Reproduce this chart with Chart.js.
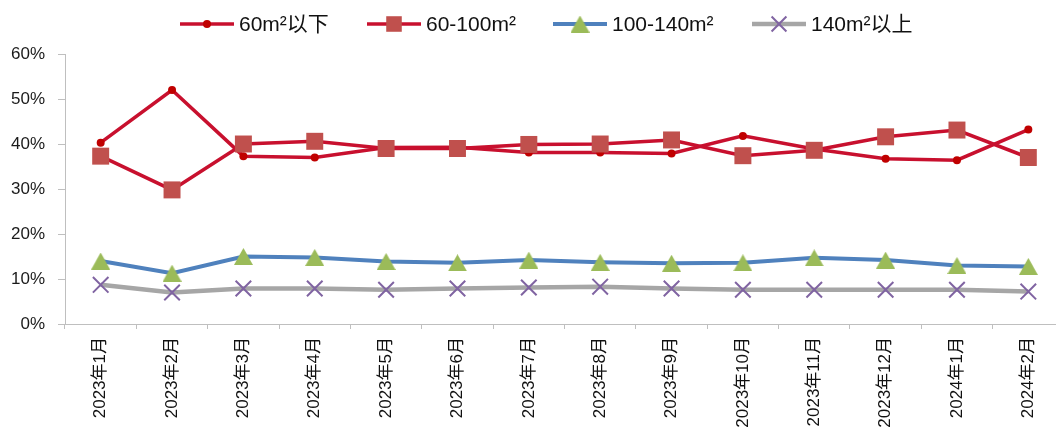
<!DOCTYPE html>
<html>
<head>
<meta charset="utf-8">
<script src="https://cdn.jsdelivr.net/npm/chart.js@4/dist/chart.umd.min.js"></script>
<style>
  html, body { margin: 0; padding: 0; overflow: hidden; background: #fff; }
  #wrap { width: 1077px; height: 429px; position: relative; }
</style>
</head>
<body>
<div id="wrap"><canvas id="c"></canvas></div>
<script>
// Monthly share of transactions by floor-area band (%)
const months = ['2023年1月','2023年2月','2023年3月','2023年4月','2023年5月','2023年6月','2023年7月',
                '2023年8月','2023年9月','2023年10月','2023年11月','2023年12月','2024年1月','2024年2月'];
const seriesNames = ['60m²以下', '60-100m²', '100-140m²', '140m²以上'];
const under60   = [40.3, 52.0, 37.3, 37.0, 39.2, 39.3, 38.1, 38.1, 37.9, 41.8, 38.9, 36.7, 36.4, 43.2];
const from60    = [37.3, 29.8, 40.0, 40.6, 39.0, 39.0, 39.9, 40.0, 40.9, 37.4, 38.6, 41.6, 43.1, 37.0];
const from100   = [14.0, 11.3, 15.0, 14.8, 13.9, 13.6, 14.2, 13.7, 13.5, 13.6, 14.7, 14.2, 13.0, 12.8];
const over140   = [ 8.7,  7.0,  7.9,  7.9,  7.6,  7.9,  8.1,  8.3,  7.9,  7.6,  7.6,  7.6,  7.6,  7.2];
const yTicks    = [0, 10, 20, 30, 40, 50, 60];

const FONT = '"Liberation Sans", Arial, "Noto Sans CJK SC", sans-serif';

// Green triangle marker, centred on its bounding box
function makeTriangle(w, h, color) {
  const c = document.createElement('canvas');
  c.width = w; c.height = h;
  const g = c.getContext('2d');
  g.fillStyle = color;
  g.beginPath();
  g.moveTo(w / 2, 0);
  g.lineTo(w, h);
  g.lineTo(0, h);
  g.closePath();
  g.fill();
  return c;
}
const triangleMarker = makeTriangle(19, 17, '#9BBB59');

// Legend across the top: line sample with the series marker in its middle
const legendStarts = [180, 367, 553, 752];
const topLegend = {
  id: 'topLegend',
  afterDraw(chart) {
    const ctx = chart.ctx;
    const y = 24;
    ctx.save();
    ctx.font = '21px ' + FONT;
    ctx.textBaseline = 'middle';
    chart.data.datasets.forEach((ds, i) => {
      const x = legendStarts[i];
      ctx.strokeStyle = ds.borderColor;
      ctx.lineWidth = ds.borderWidth;
      ctx.beginPath();
      ctx.moveTo(x, y);
      ctx.lineTo(x + 54, y);
      ctx.stroke();
      ctx.fillStyle = ds.pointBackgroundColor;
      ctx.strokeStyle = ds.pointBorderColor;
      ctx.lineWidth = ds.pointBorderWidth;
      Chart.helpers.drawPoint(ctx, {
        pointStyle: ds.pointStyle, radius: ds.legendRadius, rotation: 0, borderWidth: ds.pointBorderWidth
      }, x + 27, y);
      ctx.fillStyle = '#111';
      ctx.fillText(ds.label, x + 59, y + 1);
    });
    ctx.restore();
  }
};

new Chart(document.getElementById('c'), {
  type: 'line',
  data: {
    labels: months,
    datasets: [
      {
        label: seriesNames[0], data: under60, order: 2,
        borderColor: '#C8102E', borderWidth: 3.5,
        pointStyle: 'circle', pointRadius: 4, legendRadius: 4,
        pointBackgroundColor: '#C00000', pointBorderColor: '#C00000', pointBorderWidth: 0
      },
      {
        label: seriesNames[1], data: from60, order: 0,
        borderColor: '#C8102E', borderWidth: 3.5,
        pointStyle: 'rect', pointRadius: 12, legendRadius: 11,
        pointBackgroundColor: '#C0504D', pointBorderColor: '#C0504D', pointBorderWidth: 0
      },
      {
        label: seriesNames[2], data: from100, order: 1,
        borderColor: '#4F81BD', borderWidth: 4,
        pointStyle: triangleMarker, pointRadius: 10, legendRadius: 10,
        pointBackgroundColor: '#9BBB59', pointBorderColor: '#9BBB59', pointBorderWidth: 0
      },
      {
        label: seriesNames[3], data: over140, order: 3,
        borderColor: '#A6A6A6', borderWidth: 4.5,
        pointStyle: 'crossRot', pointRadius: 11, legendRadius: 10.5,
        pointBackgroundColor: '#8064A2', pointBorderColor: '#8064A2', pointBorderWidth: 2
      }
    ]
  },
  options: {
    responsive: true,
    maintainAspectRatio: false,
    animation: false,
    layout: { padding: { top: 54, right: 0, left: 0, bottom: 0 } },
    elements: { line: { tension: 0 }, point: { hoverRadius: 0 } },
    plugins: { legend: { display: false }, tooltip: { enabled: false } },
    scales: {
      x: {
        type: 'category',
        offset: true,
        grid: { offset: true, drawOnChartArea: false, drawTicks: true, tickLength: 5, color: '#BFBFBF' },
        border: { color: '#BFBFBF', width: 1 },
        ticks: {
          autoSkip: false, minRotation: 90, maxRotation: 90, padding: 8,
          color: '#111', font: { family: FONT, size: 17 }
        },
        afterFit(s) { s.height = 105; }
      },
      y: {
        min: yTicks[0], max: yTicks[yTicks.length - 1],
        afterBuildTicks(s) { s.ticks = yTicks.map(v => ({ value: v })); },
        grid: { drawOnChartArea: false, drawTicks: true, tickLength: 7, color: '#BFBFBF' },
        border: { color: '#BFBFBF', width: 1 },
        ticks: {
          padding: 13, color: '#1a1a1a', font: { family: FONT, size: 17 },
          callback: v => v + '%'
        },
        afterFit(s) { s.width = 65; }
      }
    }
  },
  plugins: [topLegend]
});
</script>
</body>
</html>
